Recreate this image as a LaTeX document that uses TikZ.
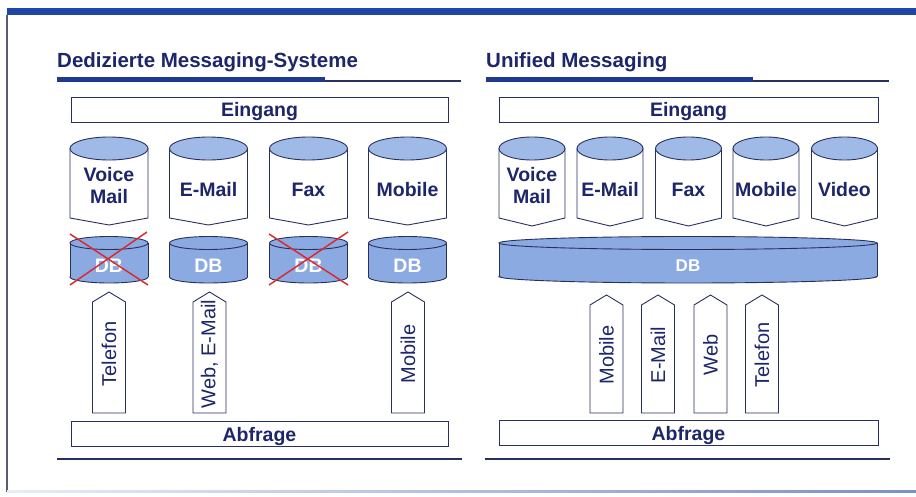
\documentclass[tikz,border=0pt]{standalone}
\usepackage{fontspec}
\setmainfont{Liberation Sans}

\definecolor{navy}{RGB}{28,38,105}
\definecolor{barblue}{RGB}{32,70,165}
\definecolor{topfill}{RGB}{160,186,232}
\definecolor{dbfill}{RGB}{140,170,226}
\definecolor{edge}{RGB}{40,48,95}
\definecolor{crossred}{RGB}{215,45,45}

\tikzset{
  title/.style={text=navy, font=\fontsize{20.5}{22}\selectfont\bfseries, inner sep=0pt},
  lbl/.style={text=navy, font=\fontsize{19.5}{22}\selectfont\bfseries, align=center, inner sep=0pt},
  bar/.style={draw=edge, line width=0.9pt, fill=white, minimum width=377pt, minimum height=25pt,
    inner sep=0pt, text=navy, font=\fontsize{19.5}{22}\selectfont\bfseries, text height=16.5pt, text depth=1.5pt},
  dbtxt/.style={text=white, font=\fontsize{19.5}{22}\selectfont\bfseries, inner sep=0pt},
  arrtxt/.style={text=navy, font=\fontsize{20}{22}\selectfont, inner sep=0pt, rotate=90},
  body/.style={draw=edge, fill=white, line width=0.9pt}
}

\begin{document}
\begin{tikzpicture}[x=1pt,y=-1pt]
\useasboundingbox (0,0) rectangle (916,497);

% frame
\fill[barblue] (7,8) rectangle (916,15.5);
\draw[gray!60!navy, line width=1.2pt] (7,15) -- (7,492);
\shade[left color=barblue!10, right color=barblue!60] (7,490) rectangle (916,492);

% left: dedicated systems
\node[title, anchor=base west] (t1) at (57,68) {Dedizierte Messaging-Systeme};
\draw[barblue!60!navy, line width=4.5pt] (57,79.5) -- (325,79.5);
\draw[edge, line width=1.2pt] (325,81) -- (461,81);
\draw[edge, line width=1.2pt] (57,459) -- (462,459);

\node[bar] (ein1) at (259.5,109.5) {Eingang};
\node[bar] (abf1) at (259.5,433.5) {Abfrage};

\foreach \cx/\ty/\t [count=\i] in {109/186/{Voice\\Mail}, 208.5/190/E-Mail, 308.5/190/Fax, 407.5/190/Mobile}{
  \filldraw[body] (\cx-39,148.5) -- (\cx-39,218) -- (\cx,225) -- (\cx+39,218) -- (\cx+39,148.5) -- cycle;
  \filldraw[draw=edge, fill=topfill, line width=0.9pt] (\cx,148.5) ellipse (39pt and 11.5pt);
  \node[lbl] (in\i) at (\cx,\ty) {\t};
  % db below
  \filldraw[draw=edge, fill=dbfill, line width=0.9pt] (\cx,277) ellipse (39pt and 6pt);
  \fill[dbfill] (\cx-39,243) rectangle (\cx+39,277);
  \draw[edge, line width=0.9pt] (\cx-39,243) -- (\cx-39,277) (\cx+39,243) -- (\cx+39,277);
  \filldraw[draw=edge, fill=dbfill, line width=0.9pt] (\cx,243) ellipse (39pt and 6.5pt);
  \node[dbtxt] (db\i) at (\cx,265.5) {DB};
}

% crossed out
\draw[crossred, line width=1.5pt] (70,234) -- (148,285) (147,232) -- (70,285);
\draw[crossred, line width=1.5pt] (269,234) -- (348,285) (348,232) -- (269,285);

\foreach \cx/\t [count=\i] in {109/Telefon, 209.5/{Web, E-Mail}, 408/Mobile}{
  \filldraw[body] (\cx-16.5,413) -- (\cx-16.5,302) -- (\cx,292) -- (\cx+16.5,302) -- (\cx+16.5,413) -- cycle;
  \node[arrtxt] (q\i) at (\cx,354) {\t};
}

% right: unified messaging
\node[title, anchor=base west] (t2) at (486,68) {Unified Messaging};
\draw[barblue!60!navy, line width=4.5pt] (486,79.5) -- (753,79.5);
\draw[edge, line width=1.2pt] (753,81) -- (889,81);
\draw[edge, line width=1.2pt] (485,459) -- (890,459);

\node[bar, minimum width=379pt] (ein2) at (688.5,109.5) {Eingang};
\node[bar, minimum width=379pt] (abf2) at (688.5,432.5) {Abfrage};

\foreach \cx/\ty/\t [count=\i] in {532/186/{Voice\\Mail}, 610/190/E-Mail, 688.5/190/Fax, 766/190/Mobile, 844.5/190/Video}{
  \filldraw[body] (\cx-33,148.5) -- (\cx-33,218) -- (\cx,226) -- (\cx+33,218) -- (\cx+33,148.5) -- cycle;
  \filldraw[draw=edge, fill=topfill, line width=0.9pt] (\cx,148.5) ellipse (33pt and 11.5pt);
  \node[lbl] (um\i) at (\cx,\ty) {\t};
}

\filldraw[draw=edge, fill=dbfill, line width=0.9pt] (688,276.5) ellipse (189pt and 6.5pt);
\fill[dbfill] (499,243) rectangle (877,276.5);
\draw[edge, line width=0.9pt] (499,243) -- (499,276.5) (877,243) -- (877,276.5);
\filldraw[draw=edge, fill=dbfill, line width=0.9pt] (688,243) ellipse (189pt and 6.5pt);
\node[dbtxt, font=\fontsize{17}{18}\selectfont\bfseries] (db) at (688,266) {DB};

\foreach \cx/\t [count=\i] in {606.5/Mobile, 658/E-Mail, 710.5/Web, 762/Telefon}{
  \filldraw[body] (\cx-16.5,413) -- (\cx-16.5,305) -- (\cx,295) -- (\cx+16.5,305) -- (\cx+16.5,413) -- cycle;
  \node[arrtxt] (r\i) at (\cx,355) {\t};
}
\end{tikzpicture}
\end{document}
